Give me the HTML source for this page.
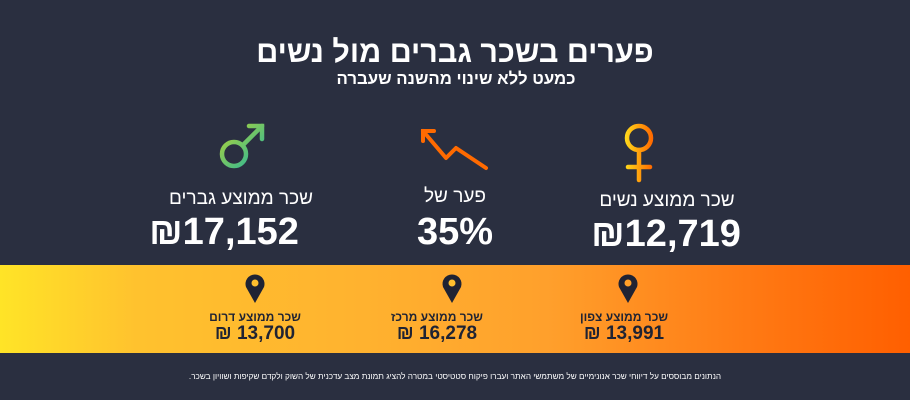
<!DOCTYPE html>
<html><head><meta charset="utf-8"><style>
body{margin:0;width:910px;height:400px;background:#2a2f40;overflow:hidden;position:relative;font-family:"Liberation Sans","DejaVu Sans",sans-serif;color:#fff}
.t{position:absolute;white-space:nowrap;transform:translateX(-50%);direction:rtl;text-align:center}
.band{position:absolute;left:0;top:265px;width:910px;height:88px;background:linear-gradient(90deg,#ffe427 0%,#ffc22e 15%,#ffb22f 40%,#ffa02c 60%,#ff7a14 82%,#ff5f00 100%)}
.d{color:#1f2333;font-weight:bold}
.v{direction:ltr}
</style></head><body>
<div class="t" style="left:455px;top:35px;font-size:30.5px;font-weight:bold">פערים בשכר גברים מול נשים</div>
<div class="t" style="left:456px;top:69px;font-size:16.8px;font-weight:bold">כמעט ללא שינוי מהשנה שעברה</div>

<svg style="position:absolute;left:0;top:0" width="910" height="265">
<defs>
<linearGradient id="gm" gradientUnits="userSpaceOnUse" x1="222" y1="124" x2="264" y2="168"><stop offset="0" stop-color="#b9d532"/><stop offset="1" stop-color="#1db3a4"/></linearGradient>
<linearGradient id="gf" gradientUnits="userSpaceOnUse" x1="626" y1="0" x2="652" y2="0"><stop offset="0" stop-color="#ffd71a"/><stop offset="1" stop-color="#ff6a00"/></linearGradient>
</defs>
<g fill="none" stroke="url(#gm)" stroke-width="4.5" stroke-linecap="round">
<circle cx="234" cy="154" r="12"/><line x1="243" y1="145" x2="262" y2="126"/><polyline points="249,126 262,126 262,139"/>
</g>
<polyline points="423,131 446,158 456,148 486,168" fill="none" stroke="#ff6a00" stroke-width="4" stroke-linecap="round" stroke-linejoin="round"/>
<polyline points="423,141 423,131 434,131" fill="none" stroke="#ff6a00" stroke-width="4" stroke-linecap="round"/>
<g fill="none" stroke="url(#gf)" stroke-width="4.5" stroke-linecap="round">
<circle cx="639" cy="138" r="12"/><line x1="639" y1="150" x2="639" y2="180"/><line x1="628" y1="167" x2="650" y2="167"/>
</g>
</svg>

<div class="t" style="left:241px;top:188px;font-size:19px">שכר ממוצע גברים</div>
<div class="t" style="left:224px;top:211px;font-size:38px;font-weight:bold">₪17,152</div>
<div class="t" style="left:455px;top:186px;font-size:19px">פער של</div>
<div class="t" style="left:455px;top:211px;font-size:38px;font-weight:bold">35%</div>
<div class="t" style="left:667px;top:190px;font-size:19px">שכר ממוצע נשים</div>
<div class="t" style="left:666px;top:213px;font-size:38px;font-weight:bold">₪12,719</div>

<div class="band"></div>
<svg style="position:absolute;left:0;top:270px" width="910" height="40">
<g fill="#1f2333">
<path d="M255 33 L246 17 A9.5 9.5 0 1 1 264 17 Z"/><path d="M452 33 L443 17 A9.5 9.5 0 1 1 461 17 Z"/><path d="M628 33 L619 17 A9.5 9.5 0 1 1 637 17 Z"/>
</g>
<g fill="#ffbf2e"><circle cx="255" cy="13" r="3.5"/><circle cx="452" cy="13" r="3.5"/><circle cx="628" cy="13" r="3.5" fill="#ff9f28"/></g>
</svg>
<div class="t d" style="left:255px;top:310px;font-size:12px">שכר ממוצע דרום</div>
<div class="t d v" style="left:255px;top:323px;font-size:19px">₪ 13,700</div>
<div class="t d" style="left:437px;top:310px;font-size:12px">שכר ממוצע מרכז</div>
<div class="t d v" style="left:437px;top:323px;font-size:19px">₪ 16,278</div>
<div class="t d" style="left:624px;top:310px;font-size:12px">שכר ממוצע צפון</div>
<div class="t d v" style="left:624px;top:323px;font-size:19px">₪ 13,991</div>

<div class="t" style="left:455px;top:372px;font-size:8.2px">הנתונים מבוססים על דיווחי שכר אנונימיים של משתמשי האתר ועברו פיקוח סטטיסטי במטרה להציג תמונת מצב עדכנית של השוק ולקדם שקיפות ושוויון בשכר.</div>
</body></html>
